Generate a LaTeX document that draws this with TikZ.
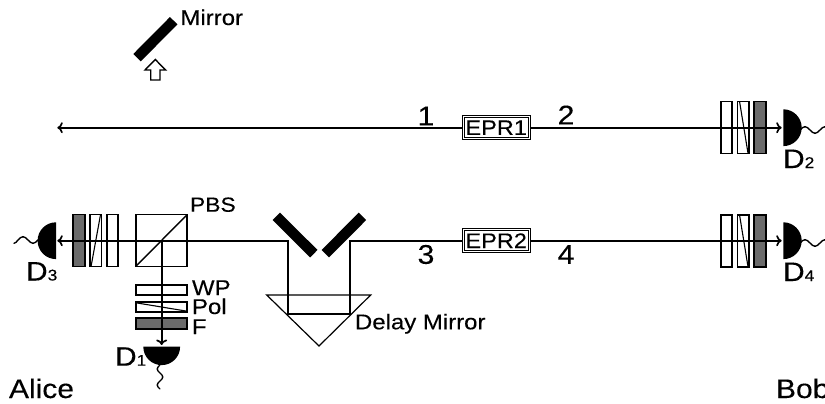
\documentclass[tikz,border=0pt]{standalone}
\usepackage{fontspec}
\setmainfont[FakeStretch=1.12,FakeBold=0.2]{Liberation Sans}
\usetikzlibrary{arrows.meta,calc}
\tikzset{
  beam/.style={line width=2.2pt,line cap=butt},
  arrowed/.style={-{To[length=5.5pt,width=11pt,line width=1.7pt]}},
  plate/.style={draw=black,line width=1.7pt,fill=white,inner sep=0pt,outer sep=0pt,minimum width=#1},
  vplate/.style={plate=11.5pt,minimum height=52pt},
  hplate/.style={plate=51.5pt,minimum height=10.5pt},
  filter/.style={fill=black!58},
  eprbox/.style={draw=black,line width=1.1pt,fill=white,inner sep=0pt,outer sep=0pt,minimum width=68pt,minimum height=24pt,font=\fontsize{21}{21}\selectfont},
  eprinner/.style={line width=0.8pt},
  thinline/.style={line width=1.1pt},
  detector/.style={fill=black},
  wiggle/.style={line width=1.4pt,line cap=round},
  mirrorbar/.style={line width=10.5pt,line cap=butt},
  lab/.style={inner sep=0pt,outer sep=0pt,anchor=base west,font=\fontsize{21.4}{21.4}\selectfont},
  biglab/.style={lab,font=\fontsize{26.8}{26.8}\selectfont},
  numlab/.style={inner sep=0pt,anchor=center,font=\fontsize{27}{27}\selectfont},
}
\newcommand{\Dlab}[1]{D{\fontsize{15.5}{15.5}\selectfont #1}}
\begin{document}
\begin{tikzpicture}[x=1pt,y=1pt,yscale=-1]
\useasboundingbox (0,0) rectangle (825,404);
\clip (0,0) rectangle (825,404);
% top mirror
\coordinate (mt1) at (173.7,20.7);
\coordinate (mt2) at (137,57.7);
\draw[mirrorbar] (mt1) -- (mt2);
\node[lab] (mirrorlab) at (180.5,25) {Mirror};
\draw[line width=1.4pt,fill=white,line join=miter] (155.3,59.5) -- (165.6,70) -- (160,70) -- (160,80) -- (150.7,80) -- (150.7,70) -- (145,70) -- cycle;
% upper beam optics
\node[vplate] (u1) at (726.5,127.5) {};
\node[vplate] (u2) at (743.3,127.5) {};
\node[vplate,filter] (u3) at (760,127.5) {};
\draw[thinline] ($(u2.north west)+(2,0)$) -- ($(u2.south east)+(-1,0)$);
% lower right optics
\node[vplate] (l1) at (726.5,241) {};
\node[vplate] (l2) at (743.3,241) {};
\node[vplate,filter] (l3) at (760,241) {};
\draw[thinline] ($(l2.north west)+(2,0)$) -- ($(l2.south east)+(-1,0)$);
% lower left optics
\node[vplate,filter] (a3) at (79,240.5) {};
\node[vplate] (a2) at (95.8,240.5) {};
\node[vplate] (a1) at (112.5,240.5) {};
\draw[thinline] ($(a2.north east)+(-1,0)$) -- ($(a2.south west)+(1,0)$);
% PBS
\node[draw=black,line width=1.7pt,fill=white,inner sep=0pt,outer sep=0pt,minimum width=51.5pt,minimum height=52pt] (pbs) at (161.5,240.5) {};
\draw[line width=1.4pt] (pbs.south west) -- (pbs.north east);
\node[lab,font=\fontsize{20.4}{20.4}\selectfont] (pbslab) at (190,211.7) {PBS};
% vertical stack
\node[hplate] (wp) at (161.5,290) {};
\node[hplate] (pol) at (161.5,307) {};
\node[hplate,filter] (flt) at (161.5,323.5) {};
\draw[thinline] ($(pol.north west)+(0,1)$) -- ($(pol.south east)+(0,-1)$);
\node[lab] (wplab) at (192,295) {WP};
\node[lab] (pollab) at (192,314) {Pol};
\node[lab] (flab) at (192,334) {F};
% coordinates
\coordinate (end1) at (57.3,127.7);
\coordinate (end2) at (781.7,127.7);
\coordinate (end3) at (57.3,240.7);
\coordinate (end4) at (781.7,240.7);
\coordinate (split) at (161.7,240.7);
\coordinate (end5) at (161.7,345);
\coordinate (c1) at (288.3,240.7);
\coordinate (c2) at (288.3,314);
\coordinate (c3) at (350,314);
\coordinate (c4) at (350,240.7);
% EPR sources
\node[eprbox] (epr1) at (496.2,127.7) {EPR1};
\node[eprbox] (epr2) at (496.2,240.7) {EPR2};
\draw[eprinner] ($(epr1.south west)+(2,-2)$) rectangle ($(epr1.north east)+(-2,2)$);
\draw[eprinner] ($(epr2.south west)+(2,-2)$) rectangle ($(epr2.north east)+(-2,2)$);
% beams
\draw[beam,arrowed] (epr1) -- (end1);
\draw[beam,arrowed] (epr1) -- (end2);
\draw[beam,arrowed] (epr2) -- (end4);
\draw[beam] (epr2) -- (c4) -- (c3) -- (c2) -- (c1) -- (split);
\draw[beam,arrowed] (split) -- (end3);
\draw[beam,arrowed] (split) -- (end5);
% delay prism
\coordinate (p1) at (266.7,295);
\coordinate (p2) at (370.7,295);
\coordinate (p3) at (319,346);
\draw[line width=1.2pt,line join=miter] (p1) -- (p2) -- (p3) -- cycle;
\node[lab] (delaylab) at (355,329.3) {Delay Mirror};
% delay mirrors
\coordinate (ml1) at (276.3,216.3);
\coordinate (ml2) at (313.8,253.7);
\coordinate (mr1) at (362.5,216.3);
\coordinate (mr2) at (325.3,253.7);
\draw[mirrorbar] (ml1) -- (ml2);
\draw[mirrorbar] (mr1) -- (mr2);
% detectors
\fill[detector] (783.3,109.3) arc (-90:90:18.4) -- cycle;
\fill[detector] (783.3,222.3) arc (-90:90:18.4) -- cycle;
\fill[detector] (56,222.3) arc (-90:-270:18.4) -- cycle;
\fill[detector] (143.3,346.7) arc (180:0:18.4) -- cycle;
% wiggles
\draw[wiggle] (800,130) sin ++(5,-3.3) cos ++(5,3.3) sin ++(5,3.3) cos ++(5,-3.3) sin ++(5,-3.3);
\draw[wiggle] (800,243) sin ++(5,-3.3) cos ++(5,3.3) sin ++(5,3.3) cos ++(5,-3.3) sin ++(5,-3.3);
\draw[wiggle] (38,240) sin ++(-5,3.3) cos ++(-5,-3.3) sin ++(-5,-3.3) cos ++(-5,3.3) sin ++(-4,3.3);
\draw[wiggle,shift={(160,365)},rotate=90] (0,0) sin ++(4,2.8) cos ++(4,-2.8) sin ++(4,-2.8) cos ++(4,2.8) sin ++(4,2.8) cos ++(4,-2.8);
% labels
\node[biglab] (d1) at (115,365.7) {\Dlab{1}};
\node[biglab] (d2) at (783,168) {\Dlab{2}};
\node[biglab] (d3) at (26,280.5) {\Dlab{3}};
\node[biglab] (d4) at (783,281) {\Dlab{4}};
\node[numlab] (n1) at (426,116) {1};
\node[numlab] (n2) at (566,115) {2};
\node[numlab] (n3) at (426,254.5) {3};
\node[numlab] (n4) at (566,254.5) {4};
\node[biglab] (alice) at (9,398) {Alice};
\node[biglab] (bob) at (776,398) {Bob};
\end{tikzpicture}
\end{document}
